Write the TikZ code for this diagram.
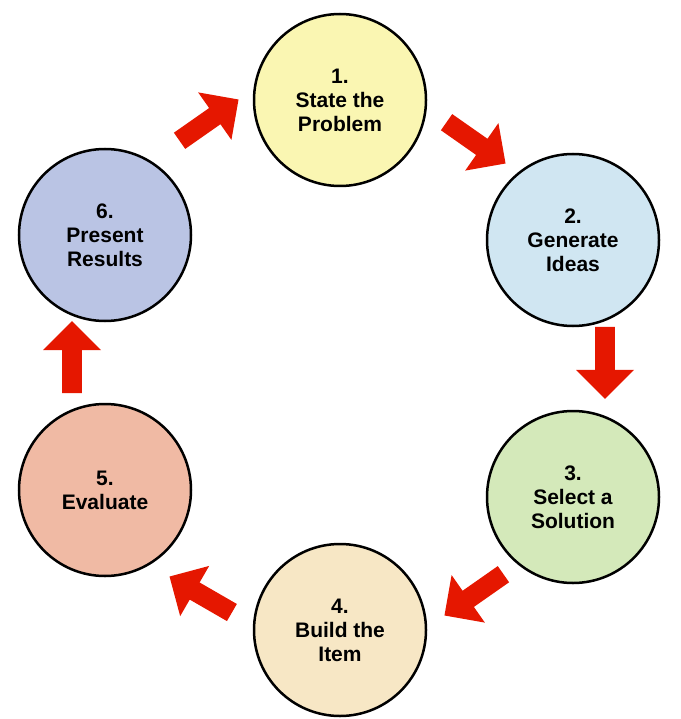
\documentclass[tikz,border=0pt]{standalone}
\usepackage{fontspec}
\setmainfont{Liberation Sans}
\usetikzlibrary{shapes.arrows}
\begin{document}
\begin{tikzpicture}[x=1pt,y=-1pt,
  stepcircle/.style={circle,draw=black,line width=2.5pt,minimum size=172pt,align=center,font=\bfseries\fontsize{21}{24}\selectfont},
  redarrow/.style={single arrow,fill=red!80!orange!90!black,draw=none,minimum height=72pt,minimum width=58pt,single arrow head extend=12pt,inner sep=6pt}]
\useasboundingbox (0,0) rectangle (680,719);
\node[stepcircle,fill={rgb,255:red,250;green,246;blue,178}] (s1) at (340,100) {1.\\State the\\Problem};
\node[stepcircle,fill={rgb,255:red,208;green,230;blue,242}] (s2) at (573,240) {2.\\Generate\\Ideas};
\node[stepcircle,fill={rgb,255:red,212;green,233;blue,186}] (s3) at (573,497) {3.\\Select a\\Solution};
\node[stepcircle,fill={rgb,255:red,247;green,231;blue,197}] (s4) at (340,630) {4.\\Build the\\Item};
\node[stepcircle,fill={rgb,255:red,240;green,186;blue,164}] (s5) at (105,490) {5.\\Evaluate};
\node[stepcircle,fill={rgb,255:red,186;green,196;blue,228}] (s6) at (105,235) {6.\\Present\\Results};
\node[redarrow,rotate=-35] (a12) at (472,140) {};
\node[redarrow,rotate=-90] (a23) at (605,358) {};
\node[redarrow,rotate=-145] (a34) at (478,592) {};
\node[redarrow,rotate=150] (a45) at (205,597) {};
\node[redarrow,rotate=90] (a56) at (72,362) {};
\node[redarrow,rotate=35] (a61) at (205,123) {};
\end{tikzpicture}
\end{document}
